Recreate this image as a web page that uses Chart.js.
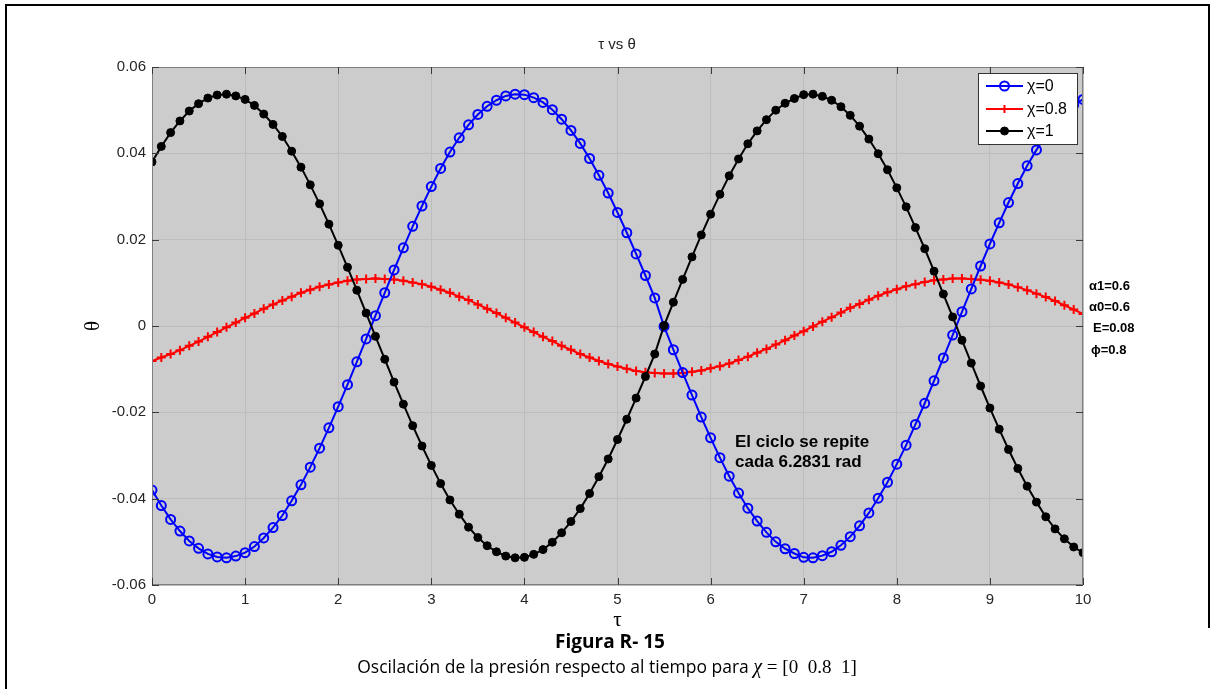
<!DOCTYPE html>
<html lang="es">
<head>
  <meta charset="UTF-8">
  <title>τ vs θ</title>
  <script src="https://cdn.jsdelivr.net/npm/chart.js"></script>
  <style>
    html, body { margin: 0; padding: 0; background: #fff; }
    canvas { display: block; }
  </style>
</head>
<body>
  <canvas id="chart" width="1214" height="689"></canvas>

  <script>
    // datos
    const tau = [
      0, 0.1, 0.2, 0.3, 0.4, 0.5, 0.6, 0.7, 0.8, 0.9,
      1, 1.1, 1.2, 1.3, 1.4, 1.5, 1.6, 1.7, 1.8, 1.9,
      2, 2.1, 2.2, 2.3, 2.4, 2.5, 2.6, 2.7, 2.8, 2.9,
      3, 3.1, 3.2, 3.3, 3.4, 3.5, 3.6, 3.7, 3.8, 3.9,
      4, 4.1, 4.2, 4.3, 4.4, 4.5, 4.6, 4.7, 4.8, 4.9,
      5, 5.1, 5.2, 5.3, 5.4, 5.5, 5.6, 5.7, 5.8, 5.9,
      6, 6.1, 6.2, 6.3, 6.4, 6.5, 6.6, 6.7, 6.8, 6.9,
      7, 7.1, 7.2, 7.3, 7.4, 7.5, 7.6, 7.7, 7.8, 7.9,
      8, 8.1, 8.2, 8.3, 8.4, 8.5, 8.6, 8.7, 8.8, 8.9,
      9, 9.1, 9.2, 9.3, 9.4, 9.5, 9.6, 9.7, 9.8, 9.9,
      10
    ];

    // χ = 0
    const thetaChi0 = [
      -0.0380, -0.0416, -0.0448, -0.0475, -0.0498, -0.0515, -0.0528, -0.0535, -0.0537, -0.0533,
      -0.0525, -0.0511, -0.0491, -0.0467, -0.0439, -0.0405, -0.0368, -0.0327, -0.0283, -0.0236,
      -0.0187, -0.0136, -0.0083, -0.0030, 0.0024, 0.0077, 0.0130, 0.0181, 0.0231, 0.0278,
      0.0323, 0.0365, 0.0403, 0.0436, 0.0466, 0.0490, 0.0509, 0.0523, 0.0533, 0.0537,
      0.0536, 0.0529, 0.0518, 0.0501, 0.0479, 0.0453, 0.0423, 0.0388, 0.0349, 0.0308,
      0.0263, 0.0216, 0.0167, 0.0117, 0.0065, -0.0001, -0.0055, -0.0108, -0.0160, -0.0211,
      -0.0259, -0.0305, -0.0348, -0.0387, -0.0422, -0.0452, -0.0478, -0.0500, -0.0516, -0.0527,
      -0.0536, -0.0537, -0.0532, -0.0523, -0.0508, -0.0488, -0.0463, -0.0433, -0.0399, -0.0362,
      -0.0320, -0.0276, -0.0228, -0.0179, -0.0127, -0.0074, -0.0021, 0.0033, 0.0086, 0.0139,
      0.0190, 0.0239, 0.0286, 0.0330, 0.0371, 0.0408, 0.0442, 0.0470, 0.0493, 0.0512,
      0.0525
    ];

    // χ = 0.8
    const thetaChi08 = [
      -0.0081, -0.0073, -0.0065, -0.0056, -0.0046, -0.0036, -0.0025, -0.0014, -0.0003, 0.0008,
      0.0019, 0.0029, 0.0040, 0.0050, 0.0059, 0.0068, 0.0077, 0.0084, 0.0091, 0.0096,
      0.0101, 0.0105, 0.0108, 0.0109, 0.0110, 0.0109, 0.0108, 0.0105, 0.0101, 0.0097,
      0.0091, 0.0084, 0.0077, 0.0068, 0.0060, 0.0050, 0.0040, 0.0030, 0.0019, 0.0008,
      -0.0003, -0.0014, -0.0025, -0.0035, -0.0046, -0.0055, -0.0065, -0.0073, -0.0081, -0.0088,
      -0.0094, -0.0099, -0.0104, -0.0107, -0.0109, -0.0110, -0.0110, -0.0109, -0.0106, -0.0103,
      -0.0098, -0.0093, -0.0087, -0.0079, -0.0071, -0.0062, -0.0053, -0.0043, -0.0033, -0.0022,
      -0.0012, -0.0001, 0.0010, 0.0020, 0.0031, 0.0042, 0.0051, 0.0061, 0.0070, 0.0078,
      0.0085, 0.0092, 0.0097, 0.0102, 0.0106, 0.0108, 0.0110, 0.0110, 0.0109, 0.0107,
      0.0105, 0.0101, 0.0096, 0.0090, 0.0083, 0.0075, 0.0067, 0.0058, 0.0048, 0.0038,
      0.0028
    ];

    // χ = 1
    const thetaChi1 = [
      0.0380, 0.0416, 0.0448, 0.0475, 0.0498, 0.0515, 0.0528, 0.0535, 0.0537, 0.0533,
      0.0525, 0.0511, 0.0491, 0.0467, 0.0439, 0.0405, 0.0368, 0.0327, 0.0283, 0.0236,
      0.0187, 0.0136, 0.0083, 0.0030, -0.0024, -0.0077, -0.0130, -0.0181, -0.0231, -0.0278,
      -0.0323, -0.0365, -0.0403, -0.0436, -0.0466, -0.0490, -0.0509, -0.0523, -0.0533, -0.0537,
      -0.0536, -0.0529, -0.0518, -0.0501, -0.0479, -0.0453, -0.0423, -0.0388, -0.0349, -0.0308,
      -0.0263, -0.0216, -0.0167, -0.0117, -0.0065, 0.0001, 0.0055, 0.0108, 0.0160, 0.0211,
      0.0259, 0.0305, 0.0348, 0.0387, 0.0422, 0.0452, 0.0478, 0.0500, 0.0516, 0.0527,
      0.0536, 0.0537, 0.0532, 0.0523, 0.0508, 0.0488, 0.0463, 0.0433, 0.0399, 0.0362,
      0.0320, 0.0276, 0.0228, 0.0179, 0.0127, 0.0074, 0.0021, -0.0033, -0.0086, -0.0139,
      -0.0190, -0.0239, -0.0286, -0.0330, -0.0371, -0.0408, -0.0442, -0.0470, -0.0493, -0.0512,
      -0.0525
    ];

    const seriesNames = ['χ=0', 'χ=0.8', 'χ=1'];
    const xTicks = [0, 1, 2, 3, 4, 5, 6, 7, 8, 9, 10];
    const yTicks = [-0.06, -0.04, -0.02, 0, 0.02, 0.04, 0.06];
    const paramLabels = ['α1=0.6', 'α0=0.6', 'E=0.08', 'ϕ=0.8'];
    const noteLines = ['El ciclo se repite', 'cada 6.2831 rad'];

    const SANS = '"Liberation Sans", Arial, sans-serif';
    const SERIF = '"Liberation Serif", "Times New Roman", serif';
    const DOC = '"Open Sans", "Noto Sans", sans-serif';

    function toPoints(ys) {
      return tau.map((t, i) => ({ x: t, y: ys[i] }));
    }

    const datasets = [
      {
        label: seriesNames[0],
        data: toPoints(thetaChi0),
        borderColor: '#0000ff',
        borderWidth: 2,
        pointStyle: 'circle',
        pointRadius: 4.5,
        pointBorderWidth: 2,
        pointBorderColor: '#0000ff',
        pointBackgroundColor: 'rgba(0,0,0,0)',
        order: 2
      },
      {
        label: seriesNames[1],
        data: toPoints(thetaChi08),
        borderColor: '#ff0000',
        borderWidth: 2,
        pointStyle: 'cross',
        pointRadius: 4.5,
        pointBorderWidth: 2,
        pointBorderColor: '#ff0000',
        pointBackgroundColor: '#ff0000',
        order: 3
      },
      {
        label: seriesNames[2],
        data: toPoints(thetaChi1),
        borderColor: '#000000',
        borderWidth: 2,
        pointStyle: 'circle',
        pointRadius: 4,
        pointBorderWidth: 1,
        pointBorderColor: '#000000',
        pointBackgroundColor: '#000000',
        order: 1
      }
    ];

    // fondo gris, ticks hacia dentro, leyenda y textos
    const decorations = {
      id: 'decorations',
      beforeDraw(chart) {
        const { ctx, chartArea: a } = chart;
        ctx.save();
        ctx.fillStyle = '#ffffff';
        ctx.fillRect(0, 0, chart.width, chart.height);
        ctx.fillStyle = '#cccccc';
        ctx.fillRect(a.left, a.top, a.right - a.left, a.bottom - a.top);
        ctx.restore();
      },
      afterDraw(chart) {
        const { ctx, chartArea: a } = chart;
        const xs = chart.scales.x, ys = chart.scales.y;
        ctx.save();

        // borde del eje
        ctx.strokeStyle = '#7f7f7f';
        ctx.lineWidth = 1;
        ctx.strokeRect(a.left + 0.5, a.top + 0.5, a.right - a.left - 1, a.bottom - a.top - 1);

        // ticks
        ctx.strokeStyle = '#3a3a3a';
        ctx.beginPath();
        xTicks.forEach(v => {
          const px = Math.round(xs.getPixelForValue(v)) + 0.5;
          ctx.moveTo(px, a.bottom); ctx.lineTo(px, a.bottom - 7);
          ctx.moveTo(px, a.top); ctx.lineTo(px, a.top + 7);
        });
        yTicks.forEach(v => {
          const py = Math.round(ys.getPixelForValue(v)) + 0.5;
          ctx.moveTo(a.left, py); ctx.lineTo(a.left + 7, py);
          ctx.moveTo(a.right, py); ctx.lineTo(a.right - 7, py);
        });
        ctx.stroke();

        // leyenda
        const lx = 978, ly = 73, lw = 99, lh = 71;
        ctx.fillStyle = '#ffffff';
        ctx.fillRect(lx, ly, lw, lh);
        ctx.strokeStyle = '#333333';
        ctx.lineWidth = 1;
        ctx.strokeRect(lx + 0.5, ly + 0.5, lw, lh);
        const rows = [86, 109, 131];
        chart.data.datasets.forEach((ds, i) => {
          const y = rows[i];
          ctx.strokeStyle = ds.borderColor;
          ctx.lineWidth = 2;
          ctx.beginPath();
          ctx.moveTo(986, y); ctx.lineTo(1023, y);
          ctx.stroke();
          if (ds.pointStyle === 'cross') {
            ctx.beginPath();
            ctx.moveTo(1004.5, y - 4); ctx.lineTo(1004.5, y + 4);
            ctx.stroke();
          } else {
            ctx.beginPath();
            ctx.arc(1004.5, y, ds.pointRadius, 0, Math.PI * 2);
            ctx.fillStyle = ds.pointBackgroundColor;
            ctx.fill();
            ctx.lineWidth = ds.pointBorderWidth;
            ctx.stroke();
          }
          ctx.fillStyle = '#000';
          ctx.font = '16px ' + SANS;
          ctx.textAlign = 'left';
          ctx.textBaseline = 'middle';
          ctx.fillText(ds.label, 1027, y + 1);
        });

        // titulo
        ctx.fillStyle = '#222';
        ctx.textAlign = 'center';
        ctx.textBaseline = 'middle';
        ctx.font = '15px ' + SANS;
        ctx.fillText('τ vs θ', 617, 45);

        // etiquetas de ejes
        ctx.fillStyle = '#000';
        ctx.font = '21px ' + SERIF;
        ctx.fillText('τ', (a.left + a.right) / 2, 620);
        ctx.save();
        ctx.translate(93, (a.top + a.bottom) / 2);
        ctx.rotate(-Math.PI / 2);
        ctx.fillText('θ', 0, 0);
        ctx.restore();

        // parametros a la derecha
        ctx.font = 'bold 13px ' + SANS;
        ctx.textAlign = 'left';
        const py = [286, 307, 328, 350];
        const pxs = [1089, 1089, 1093, 1091];
        paramLabels.forEach((t, i) => ctx.fillText(t, pxs[i], py[i]));

        // nota dentro del grafico
        ctx.font = 'bold 17px ' + SANS;
        ctx.fillText(noteLines[0], 735, 442);
        ctx.fillText(noteLines[1], 735, 462);

        // pie de figura
        ctx.textAlign = 'center';
        ctx.font = 'bold 19px ' + DOC;
        ctx.fillText('Figura R- 15', 610, 643);

        const capA = 'Oscilación de la presión respecto al tiempo para ';
        const capB = 'χ';
        const capC = ' = [0  0.8  1]';
        const fA = '17.5px ' + DOC;
        const fB = 'italic 20px ' + SERIF;
        const fC = '19px ' + SERIF;
        ctx.font = fA; const wA = ctx.measureText(capA).width;
        ctx.font = fB; const wB = ctx.measureText(capB).width;
        ctx.font = fC; const wC = ctx.measureText(capC).width;
        const x0 = 607 - (wA + wB + wC) / 2;
        ctx.textAlign = 'left';
        ctx.font = fA; ctx.fillText(capA, x0, 668);
        ctx.font = fB; ctx.fillText(capB, x0 + wA, 668);
        ctx.font = fC; ctx.fillText(capC, x0 + wA + wB, 668);

        // marco exterior (arriba, izquierda y derecha)
        ctx.strokeStyle = '#000';
        ctx.lineWidth = 2;
        ctx.beginPath();
        ctx.moveTo(6, 689); ctx.lineTo(6, 5);
        ctx.lineTo(1209, 5); ctx.lineTo(1209, 628);
        ctx.stroke();
        ctx.restore();
      }
    };

    new Chart(document.getElementById('chart').getContext('2d'), {
      type: 'line',
      data: { datasets: datasets },
      plugins: [decorations],
      options: {
        responsive: false,
        animation: false,
        layout: { padding: { top: 67, right: 131, bottom: 0, left: 0 } },
        plugins: {
          legend: { display: false },
          tooltip: { enabled: false },
          title: { display: false }
        },
        elements: { line: { tension: 0 } },
        scales: {
          x: {
            type: 'linear',
            min: 0,
            max: 10,
            afterFit: s => { s.height = 104; },
            afterBuildTicks: s => { s.ticks = xTicks.map(v => ({ value: v })); },
            ticks: { font: { size: 15, family: SANS }, color: '#262626', padding: 6, maxRotation: 0 },
            grid: { color: '#bdbdbd', lineWidth: 1, drawTicks: false },
            border: { display: false }
          },
          y: {
            min: -0.06,
            max: 0.06,
            afterFit: s => { s.width = 152; },
            afterBuildTicks: s => { s.ticks = yTicks.map(v => ({ value: v })); },
            ticks: {
              font: { size: 15, family: SANS },
              color: '#262626',
              padding: 6,
              callback: v => (Math.abs(v) < 1e-9 ? '0' : v.toFixed(2))
            },
            grid: { color: '#bdbdbd', lineWidth: 1, drawTicks: false },
            border: { display: false }
          }
        }
      }
    });
  </script>
</body>
</html>
